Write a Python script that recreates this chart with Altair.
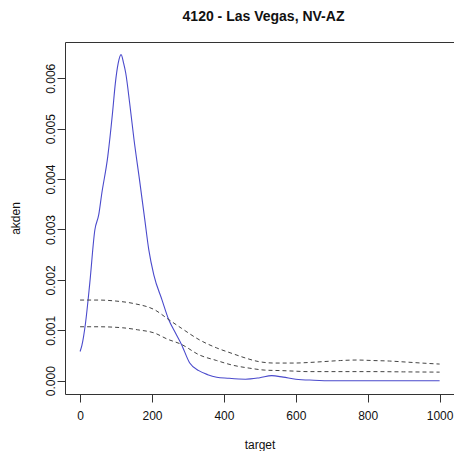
import altair as alt
import pandas as pd

# ---- data ----
blue_x = [0, 5, 15, 27, 41, 52, 60, 77, 90, 98, 106, 114, 121, 127, 138, 150, 165, 180,
          191, 205, 228, 246, 265, 282, 305, 330, 355, 380, 410, 460, 500, 533, 565, 600,
          650, 700, 800, 900, 1000]
blue_y = [0.00058, 0.0007, 0.00114, 0.00194, 0.00299, 0.0033, 0.0037, 0.00445, 0.0053,
          0.0059, 0.0063, 0.00647, 0.0063, 0.0061, 0.0055, 0.00478, 0.0040, 0.00319,
          0.0026, 0.0021, 0.0016, 0.00122, 0.00095, 0.00072, 0.00035, 0.0002, 0.00012,
          0.00007, 0.00005, 0.00003, 0.00006, 0.0001, 0.00007, 0.00003, 0.00001, 0.0,
          0.0, 0.0, 0.0]

upper_x = [0, 50, 100, 150, 209, 245, 282, 332, 380, 423, 460, 496, 542, 596, 633, 680,
           724, 770, 815, 860, 906, 950, 1000]
upper_y = [0.0016, 0.0016, 0.00158, 0.00153, 0.0014, 0.00122, 0.00104, 0.00081, 0.00065,
           0.00054, 0.00045, 0.00038, 0.00035, 0.00035, 0.00036, 0.00038, 0.0004, 0.00041,
           0.0004, 0.00039, 0.00037, 0.00035, 0.00033]

lower_x = [0, 50, 118, 160, 209, 241, 282, 332, 380, 423, 470, 514, 560, 596, 633, 700,
           815, 900, 1000]
lower_y = [0.00107, 0.00107, 0.00105, 0.00101, 0.00094, 0.00083, 0.00072, 0.00051, 0.0004,
           0.00031, 0.00025, 0.00021, 0.0002, 0.00019, 0.00018, 0.00018, 0.00018, 0.000175,
           0.00017]

x_ticks = [0, 200, 400, 600, 800, 1000]
y_ticks = [0.0, 0.001, 0.002, 0.003, 0.004, 0.005, 0.006]

title_text = "4120 - Las Vegas, NV-AZ"
x_title = "target"
y_title = "akden"

FONT = "Liberation Sans"

df_blue = pd.DataFrame({"target": blue_x, "akden": blue_y})
df_up = pd.DataFrame({"target": upper_x, "akden": upper_y})
df_lo = pd.DataFrame({"target": lower_x, "akden": lower_y})

xs = alt.Scale(domain=[-42, 1040], nice=False, zero=False)
ys = alt.Scale(domain=[-0.000264, 0.00672], nice=False, zero=False)

x_axis = alt.Axis(values=x_ticks, format="d", grid=False, domain=False,
                  tickSize=8, tickColor="#333", labelFont=FONT, labelFontSize=12,
                  labelColor="#111", labelPadding=8, title=x_title, titleFont=FONT,
                  titleFontSize=12, titleFontWeight="normal", titleColor="#111",
                  titleY=50, titleBaseline="middle")
y_axis = alt.Axis(values=y_ticks, format=".3f", grid=False, domain=False,
                  tickSize=8, tickColor="#333", labelFont=FONT, labelFontSize=12,
                  labelColor="#111", labelAngle=270, labelAlign="center",
                  labelBaseline="middle", labelPadding=7, title=y_title,
                  titleFont=FONT, titleFontSize=12, titleFontWeight="normal",
                  titleColor="#111", titleAngle=270, titleX=-50, titleY=176,
                  titleAlign="center", titleBaseline="middle")

blue = alt.Chart(df_blue).mark_line(color="#4a4acc", strokeWidth=1.1,
                                    interpolate="monotone").encode(
    x=alt.X("target:Q", scale=xs, axis=x_axis),
    y=alt.Y("akden:Q", scale=ys, axis=y_axis),
)
up = alt.Chart(df_up).mark_line(color="#444", strokeWidth=1, strokeDash=[4, 3],
                                interpolate="monotone").encode(
    x=alt.X("target:Q", scale=xs), y=alt.Y("akden:Q", scale=ys))
lo = alt.Chart(df_lo).mark_line(color="#444", strokeWidth=1, strokeDash=[4, 3],
                                interpolate="monotone").encode(
    x=alt.X("target:Q", scale=xs), y=alt.Y("akden:Q", scale=ys))

chart = alt.layer(blue, up, lo).properties(
    width=389, height=352,
    background="white",
    title=alt.TitleParams(title_text, font=FONT, fontSize=14, fontWeight="bold",
                          anchor="middle", baseline="alphabetic", offset=7, dx=4,
                          color="#111"),
    autosize=alt.AutoSizeParams(type="none"),
    padding={"left": 57, "top": 34, "right": 0, "bottom": 57},
).configure_view(stroke="#333", strokeWidth=1)

chart.save("out.html", embed_options={"renderer": "svg", "actions": False})
